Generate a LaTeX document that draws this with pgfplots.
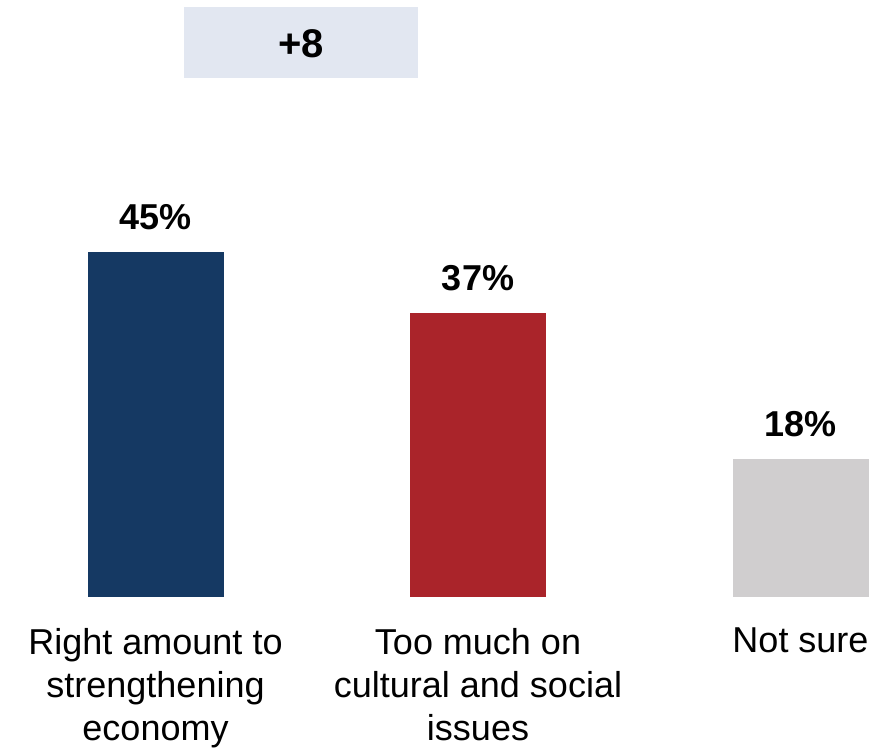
\documentclass[border=0pt]{standalone}
\usepackage{pgfplots}
\pgfplotsset{compat=1.18}
\usepackage{fontspec}
\setmainfont{Liberation Sans}
\definecolor{navy}{HTML}{153963}
\definecolor{barred}{HTML}{AA242A}
\definecolor{bargray}{HTML}{D0CECF}
\definecolor{boxfill}{HTML}{E2E7F1}
\begin{document}
\begin{tikzpicture}
\useasboundingbox (0,0) rectangle (890pt,748pt);
\fill[boxfill] (184pt,670pt) rectangle (418pt,741pt);
\node[anchor=base, inner sep=0pt, font=\bfseries\fontsize{40}{48}\selectfont] at (301pt,690pt) {+8};
\begin{axis}[
  at={(0pt,151pt)}, anchor=south west,
  scale only axis, width=890pt, height=597pt,
  xmin=-0.4822, xmax=2.2775, ymin=0, ymax=77.87,
  axis x line=bottom, axis y line=none,
  x axis line style={draw=none},
  major tick length=0pt, xtick style={draw=none},
  ytick=\empty,
  xtick={0,1,2},
  xticklabels={Right amount to\\strengthening\\economy, Too much on\\cultural and social\\issues, Not sure},
  xticklabel style={align=center, font=\fontsize{36}{43}\selectfont, anchor=north, inner sep=0pt, yshift=-31pt},
  clip=false,
  /pgf/number format/assume math mode=true,
  nodes near coords={\pgfmathprintnumber{\pgfplotspointmeta}\%},
  every node near coord/.append style={font=\bfseries\fontsize{36}{43}\selectfont, anchor=base, inner sep=0pt, yshift=23pt, text=black},
]
\addplot[ybar, bar width=136pt, bar shift=0pt, fill=navy, draw=none] coordinates {(0,45)};
\addplot[ybar, bar width=136pt, bar shift=0pt, fill=barred, draw=none] coordinates {(1,37)};
\addplot[ybar, bar width=136pt, bar shift=0pt, fill=bargray, draw=none] coordinates {(2,18)};
\end{axis}
\end{tikzpicture}
\end{document}
